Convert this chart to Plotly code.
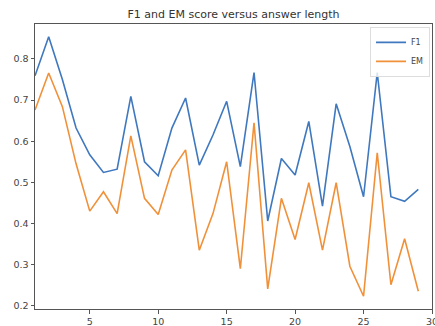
import plotly.graph_objects as go

lengths = list(range(1, 30))
f1 = [0.759, 0.854, 0.750, 0.632, 0.567, 0.524, 0.532, 0.709, 0.550, 0.516,
      0.632, 0.705, 0.542, 0.615, 0.697, 0.538, 0.767, 0.406, 0.558, 0.518,
      0.648, 0.442, 0.691, 0.587, 0.465, 0.767, 0.465, 0.454, 0.483]
em = [0.676, 0.766, 0.684, 0.545, 0.430, 0.477, 0.424, 0.613, 0.461, 0.422,
      0.530, 0.579, 0.335, 0.424, 0.550, 0.290, 0.645, 0.241, 0.461, 0.361,
      0.499, 0.335, 0.499, 0.296, 0.223, 0.572, 0.251, 0.363, 0.235]
x_ticks = [5, 10, 15, 20, 25, 30]
y_ticks = [0.2, 0.3, 0.4, 0.5, 0.6, 0.7, 0.8]

fig = go.Figure()
fig.add_trace(go.Scatter(x=lengths, y=f1, mode="lines", name="F1",
                         line=dict(color="#3f78bf", width=1.6)))
fig.add_trace(go.Scatter(x=lengths, y=em, mode="lines", name="EM",
                         line=dict(color="#f0913a", width=1.6)))

axis_common = dict(showline=True, mirror=True, linecolor="#555", linewidth=1,
                   ticks="outside", ticklen=3.5, tickcolor="#555", showgrid=False,
                   zeroline=False, tickfont=dict(family="DejaVu Sans", size=9.5, color="#444"),
                   automargin=False, ticklabeloverflow="allow")

fig.update_layout(
    width=435, height=326,
    margin=dict(l=35, r=3, t=24, b=17),
    paper_bgcolor="white", plot_bgcolor="white",
    title=dict(text="F1 and EM score versus answer length", x=0.5, xanchor="center",
               xref="paper", y=0.957, yanchor="middle", yref="container",
               font=dict(family="DejaVu Sans", size=11, color="#333")),
    xaxis=dict(range=[1, 30], tickvals=x_ticks, **axis_common),
    yaxis=dict(range=[0.192, 0.885], tickvals=y_ticks, ticktext=[f"{v:.1f}" for v in y_ticks],
               **axis_common),
    legend=dict(x=0.995, y=0.99, xanchor="right", yanchor="top",
                bordercolor="#ddd", borderwidth=1, bgcolor="rgba(255,255,255,0.8)",
                font=dict(family="DejaVu Sans", size=8, color="#444"),
                itemwidth=30, tracegroupgap=0),
    showlegend=True,
)

fig.write_html("out.html")
